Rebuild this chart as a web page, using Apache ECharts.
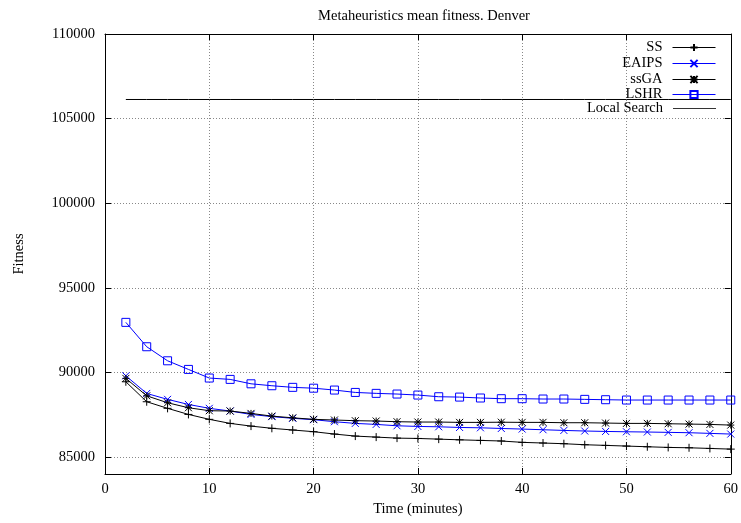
<!DOCTYPE html>
<html>
<head>
<meta charset="utf-8">
<script src="https://cdn.jsdelivr.net/npm/echarts@6/dist/echarts.min.js"></script>
<style>
  html, body { margin: 0; padding: 0; background: #fff; }
  #chart { width: 741px; height: 523px; }
</style>
</head>
<body>
<div id="chart"></div>
<script>
// Elapsed time in minutes at which each algorithm was sampled
var times = [2, 4, 6, 8, 10, 12, 14, 16, 18, 20, 22, 24, 26, 28, 30,
             32, 34, 36, 38, 40, 42, 44, 46, 48, 50, 52, 54, 56, 58, 60];

// Mean fitness per algorithm
var ss = [89450, 88270, 87880, 87520, 87230, 86990, 86830, 86700, 86600, 86500,
          86360, 86240, 86180, 86120, 86100, 86060, 86020, 85985, 85950, 85870,
          85830, 85790, 85730, 85690, 85650, 85610, 85570, 85550, 85510, 85470];
var eaips = [89800, 88760, 88410, 88110, 87880, 87720, 87520, 87390, 87290, 87210,
             87090, 86990, 86930, 86850, 86810, 86790, 86750, 86730, 86690, 86655,
             86615, 86575, 86540, 86515, 86495, 86480, 86460, 86440, 86400, 86360];
var ssga = [89650, 88620, 88210, 87915, 87740, 87720, 87580, 87420, 87320, 87230,
            87190, 87150, 87130, 87090, 87070, 87070, 87050, 87050, 87060, 87050,
            87050, 87030, 87030, 87010, 86990, 86990, 86970, 86950, 86930, 86890];
var lshr = [92960, 91520, 90690, 90180, 89670, 89590, 89330, 89215, 89120, 89070,
            88960, 88820, 88765, 88725, 88665, 88565, 88545, 88490, 88450, 88450,
            88430, 88430, 88410, 88390, 88370, 88370, 88370, 88370, 88370, 88370];
var localSearch = [106130, 106130, 106130, 106130, 106130, 106130, 106130, 106130, 106130, 106130,
                   106130, 106130, 106130, 106130, 106130, 106130, 106130, 106130, 106130, 106130,
                   106130, 106130, 106130, 106130, 106130, 106130, 106130, 106130, 106130, 106130];

// Axis tick values
var xTicks = [0, 10, 20, 30, 40, 50, 60];
var yTicks = [85000, 90000, 95000, 100000, 105000, 110000];

var FONT = 'Liberation Serif';
var FS = 14.5;

function pairs(vals) {
  return times.map(function (t, i) { return [t, vals[i]]; });
}

var plusPath = 'path://M5,0L5,10M0,5L10,5';
var crossPath = 'path://M0,0L10,10M10,0L0,10';
var starPath = 'path://M5,0L5,10M0,5L10,5M0,0L10,10M10,0L0,10';
var squarePath = 'path://M0,0L10,0L10,10L0,10Z';

function lineSeries(name, vals, color, symbol, size, fill) {
  return {
    name: name,
    type: 'line',
    data: pairs(vals),
    symbol: symbol,
    symbolSize: size,
    showAllSymbol: true,
    animation: false,
    lineStyle: { color: color, width: 1 },
    itemStyle: { color: fill || color, borderColor: color, borderWidth: 1 },
    emphasis: { disabled: true }
  };
}

var series = [
  lineSeries('SS', ss, '#000000', plusPath, 8),
  lineSeries('EAIPS', eaips, '#0000ff', crossPath, 7),
  lineSeries('ssGA', ssga, '#000000', starPath, 7),
  lineSeries('LSHR', lshr, '#0000ff', squarePath, 8, 'rgba(255,255,255,0)'),
  {
    name: 'Local Search',
    type: 'line',
    data: pairs(localSearch),
    symbol: 'none',
    animation: false,
    lineStyle: { color: '#000000', width: 1 },
    itemStyle: { color: '#000000' },
    emphasis: { disabled: true }
  }
];

// One key entry per row, each right-aligned against the same edge
var keyNames = ['SS', 'EAIPS', 'ssGA', 'LSHR'];
var keyTops = [40, 56, 72, 87];
var legends = keyNames.map(function (n, i) {
  return {
    data: [n],
    right: 25,
    top: keyTops[i],
    align: 'right',
    orient: 'horizontal',
    itemWidth: 43,
    itemHeight: 9,
    padding: 0,
    selectedMode: false,
    lineStyle: { width: 1 },
    textStyle: { fontFamily: FONT, fontSize: FS, color: '#000', padding: [0, 5, 0, 0] }
  };
});
legends.push({
  data: [{ name: 'Local Search', icon: 'rect' }],
  right: 25,
  top: 101,
  align: 'right',
  orient: 'horizontal',
  itemWidth: 43,
  itemHeight: 1,
  padding: 0,
  selectedMode: false,
  itemStyle: { color: '#333333' },
  textStyle: { fontFamily: FONT, fontSize: FS, color: '#000', padding: [0, 5, 0, 0] }
});

var gridDots = { show: true, lineStyle: { color: '#888', type: [1, 2], width: 1 } };
var frameLine = { show: true, onZero: false, lineStyle: { color: '#000', width: 1 } };

var option = {
  backgroundColor: '#ffffff',
  animation: false,
  title: {
    text: 'Metaheuristics mean fitness. Denver',
    left: 419, top: 4, textAlign: 'center',
    textStyle: { fontFamily: FONT, fontSize: FS, fontWeight: 'normal', color: '#000' }
  },
  legend: legends,
  grid: { left: 105, right: 7, top: 34, bottom: 49, containLabel: false },
  xAxis: [
    {
      type: 'value', position: 'bottom', min: 0, max: 60, interval: 10,
      name: 'Time (minutes)', nameLocation: 'middle', nameGap: 27,
      nameTextStyle: { fontFamily: FONT, fontSize: FS, color: '#000' },
      axisLine: frameLine,
      axisTick: { show: true, inside: true, length: 6, lineStyle: { color: '#000' } },
      axisLabel: { fontFamily: FONT, fontSize: FS, color: '#000', margin: 8,
                   formatter: function (v) { return String(v); } },
      splitLine: gridDots
    },
    {
      type: 'value', position: 'top', min: 0, max: 60, interval: 10,
      axisLine: frameLine,
      axisTick: { show: true, inside: true, length: 6, lineStyle: { color: '#000' } },
      axisLabel: { show: false },
      splitLine: { show: false }
    }
  ],
  yAxis: [
    {
      type: 'value', position: 'left', min: 84000, max: 110000,
      name: 'Fitness', nameLocation: 'middle', nameGap: 78, nameRotate: 90,
      nameTextStyle: { fontFamily: FONT, fontSize: FS, color: '#000' },
      axisLine: frameLine,
      axisTick: { show: true, inside: true, length: 6, customValues: yTicks, lineStyle: { color: '#000' } },
      axisLabel: { fontFamily: FONT, fontSize: FS, color: '#000', margin: 10, customValues: yTicks,
                   formatter: function (v) { return String(v); } },
      splitLine: gridDots
    },
    {
      type: 'value', position: 'right', min: 84000, max: 110000,
      axisLine: frameLine,
      axisTick: { show: true, inside: true, length: 6, customValues: yTicks, lineStyle: { color: '#000' } },
      axisLabel: { show: false, customValues: yTicks },
      splitLine: { show: false }
    }
  ],
  series: series
};

var chart = echarts.init(document.getElementById('chart'), null, { renderer: 'canvas' });
chart.setOption(option);
</script>
</body>
</html>
